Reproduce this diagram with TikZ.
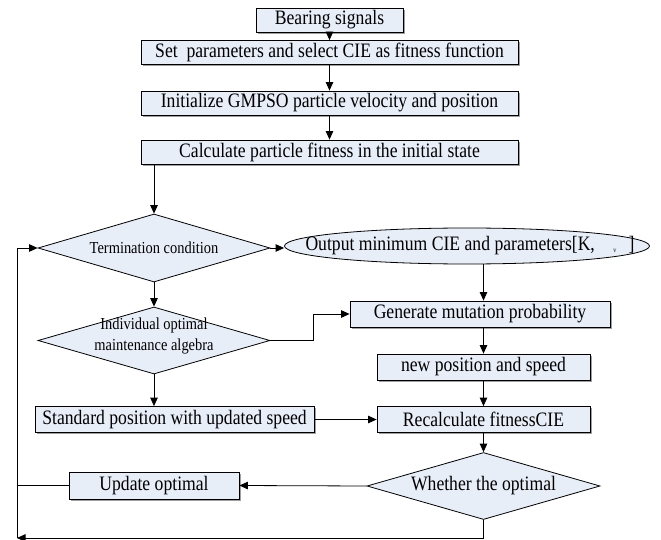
\documentclass[tikz,border=0pt]{standalone}
\usepackage{fontspec}
\setmainfont{Liberation Serif}[FakeStretch=0.86]
\usetikzlibrary{arrows.meta,shapes.geometric,shadows}
\definecolor{boxfill}{HTML}{E8EEF8}
\begin{document}
\begin{tikzpicture}[x=1pt,y=-1pt,
  box/.style={draw=black, line width=0.8pt, fill=boxfill, rectangle, inner sep=0pt,
    font=\fontsize{20.5}{22}\selectfont,
    drop shadow={shadow xshift=1.6pt, shadow yshift=-1.6pt, fill=gray!75, opacity=1}},
  dia/.style={draw=black, line width=0.8pt, fill=boxfill, diamond, inner sep=0pt},
  ell/.style={draw=black, line width=0.8pt, fill=boxfill, ellipse, inner sep=0pt},
  bigtext/.style={inner sep=0pt, font=\fontsize{20.5}{22}\selectfont},
  smalltext/.style={inner sep=0pt, align=center, font=\fontsize{16.8}{21}\selectfont},
  arr/.style={-{Triangle[length=8.5pt,width=7.5pt]}, line width=0.8pt},
  conn/.style={line width=0.8pt}
]
\useasboundingbox (0,0) rectangle (661,540);

\node[box, minimum width=147pt, minimum height=24pt] (bear) at (329.5,20) {Bearing signals};
\node[box, minimum width=377pt, minimum height=24pt] (setp) at (329.5,52.5) {Set\ \ parameters and select CIE as fitness function};
\node[box, minimum width=377pt, minimum height=24pt] (init) at (329.5,103) {Initialize GMPSO particle velocity and position};
\node[box, minimum width=377pt, minimum height=24pt] (calc) at (329.5,152) {Calculate particle fitness in the initial state};

\node[dia, minimum width=232pt, minimum height=68pt] (term) at (154,248) {};
\node[smalltext] (termt) at (term) {Termination condition};

\node[ell, minimum width=365pt, minimum height=36pt] (out) at (467,246) {};
\node[bigtext] (outt) at (470,246) {Output minimum CIE and parameters[K,\hspace{0.9em}{\fontsize{7}{7}\selectfont\raisebox{-2pt}{v}}\hspace{0.6em}]};

\node[box, minimum width=260pt, minimum height=26pt] (gen) at (480,314) {Generate mutation probability};
\node[box, minimum width=213pt, minimum height=26pt] (newp) at (483.5,367) {new position and speed};

\node[dia, minimum width=232pt, minimum height=67pt] (ind) at (154,340.5) {};
\node[smalltext] (indt) at (154,336) {Individual optimal\\maintenance algebra};

\node[box, minimum width=279pt, minimum height=26pt] (std) at (174.5,419.5) {Standard position with updated speed};
\node[box, minimum width=213pt, minimum height=26pt] (rec) at (483.5,419.5) {Recalculate fitnessCIE};

\node[dia, minimum width=233pt, minimum height=67pt] (whe) at (483.5,486) {};
\node[bigtext] (whet) at (whe) {Whether the optimal};

\node[box, minimum width=170pt, minimum height=27pt] (upd) at (154,485.5) {Update optimal};

\coordinate (bl) at (17,538);

\draw[arr] (bear) -- (setp);
\draw[arr] (setp) -- (init);
\draw[arr] (init) -- (calc);
\draw[arr] (calc.south -| term.north) -- (term.north);
\draw[arr] (term.east) -- (term.east -| out.west);
\draw[arr] (term.south) -- (ind.north);
\draw[arr] (rec.north |- out.south) -- (rec.north |- gen.north);
\draw[arr] (ind.east) -- ++(43,0) |- (gen.west);
\draw[arr] (rec.north |- gen.south) -- (newp);
\draw[arr] (newp) -- (rec);
\draw[arr] (ind.south) -- (ind.south |- std.north);
\draw[arr] (std.east) -- (rec.west);
\draw[arr] (rec.south) -- (whe.north);
\draw[arr] (whe.west) -- (upd.east);
\draw[conn] (upd.west) -- (upd.west -| bl);
\draw[arr] (whe.south) |- (bl);
\draw[arr] (bl) |- (term.west);
\end{tikzpicture}
\end{document}
